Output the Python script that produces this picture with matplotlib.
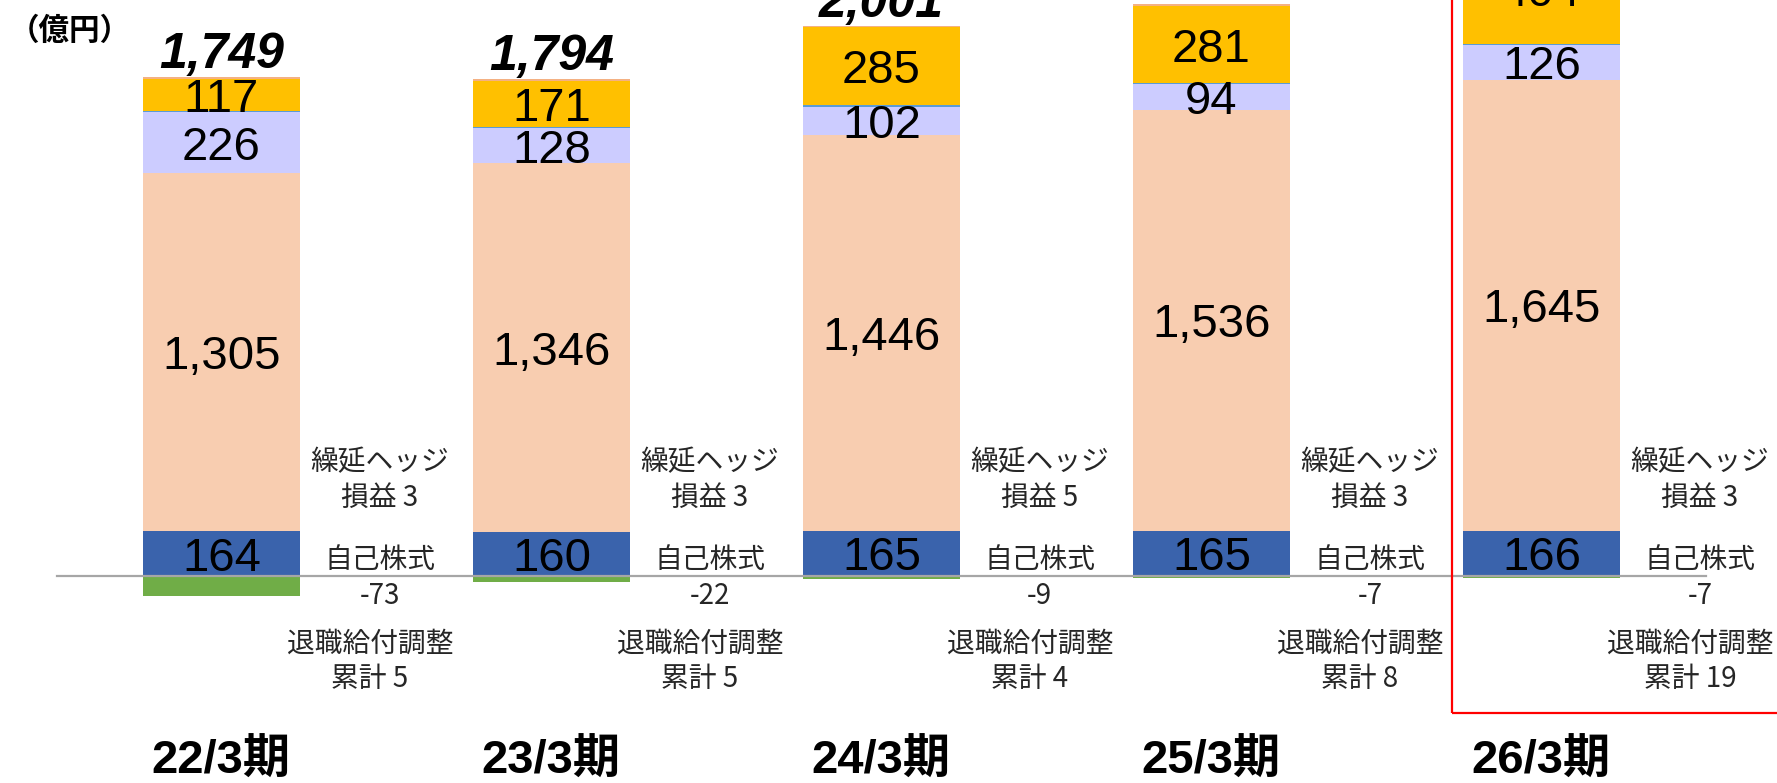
import matplotlib
matplotlib.use("Agg")
import matplotlib.pyplot as plt
from matplotlib import font_manager
from matplotlib.patches import Rectangle
import numpy as np

# データ（億円）
periods = ["22/3期", "23/3期", "24/3期", "25/3期", "26/3期"]
capital = [164, 160, 165, 165, 166]          # 青
retained = [1305, 1346, 1446, 1536, 1645]     # オレンジ
securities = [226, 128, 102, 94, 126]         # 薄紫
hedge = [3, 3, 5, 3, 3]                       # 繰延ヘッジ損益
minority = [117, 171, 285, 281, 404]          # 黄
retirement = [5, 5, 4, 8, 19]                 # 退職給付調整累計
treasury = [-73, -22, -9, -7, -7]             # 自己株式
totals = ["1,749", "1,794", "2,001"]

# フォント
names = {f.name for f in font_manager.fontManager.ttflist}
narrow = "Liberation Sans Narrow" if "Liberation Sans Narrow" in names else "Liberation Sans"
fam = [narrow, "Noto Sans CJK JP", "DejaVu Sans"]
fam_jp = ["Noto Sans CJK JP", "DejaVu Sans"]

fig = plt.figure(figsize=(17.77, 7.83), dpi=100)
ax = fig.add_axes([0, 0, 1, 1])
ax.set_xlim(-0.671, 4.714)
ax.set_ylim(-755, 2102)
ax.axis("off")

x = np.arange(len(periods))
w = 0.476

layers = [
    (capital, "#3A63AC", True),
    (retained, "#F8CDB0", True),
    (securities, "#CCCCFF", True),
    (hedge, "#5B9BD5", False),
    (minority, "#FFC000", True),
    (retirement, "#F4B183", False),
]

bottom = np.zeros(len(periods))
for vals, col, show in layers:
    vals = np.array(vals, dtype=float)
    ax.bar(x, vals, w, bottom=bottom, color=col, edgecolor="none", zorder=2)
    if show:
        for xi, b, v in zip(x, bottom, vals):
            ax.text(xi, b + v / 2, f"{int(v):,}", ha="center", va="center_baseline",
                    fontsize=34, family=fam, color="black", zorder=3)
    bottom += vals

ax.bar(x, treasury, w, color="#70AD47", edgecolor="none", zorder=2)

# 合計
for xi, b, t in zip(x, bottom, totals):
    ax.text(xi, b + 100, t, ha="center", va="center_baseline", fontsize=36,
            family=fam, fontweight="bold", style="italic", zorder=3)

# 基準線
ax.plot([-0.498, 4.5], [0, 0], color="#A6A6A6", lw=1.6, zorder=4)

# 注記
for xi, h, t, r in zip(x, hedge, treasury, retirement):
    ax.text(xi + 0.48, 350, f"繰延ヘッジ\n損益 {h}", ha="center", va="center",
            fontsize=20, family=fam_jp, color="#262626", linespacing=1.25)
    ax.text(xi + 0.48, -8, f"自己株式\n{t}", ha="center", va="center",
            fontsize=20, family=fam_jp, color="#262626", linespacing=1.25)
    ax.text(xi + 0.45, -312, f"退職給付調整\n累計 {r}", ha="center", va="center",
            fontsize=20, family=fam_jp, color="#262626", linespacing=1.25)

# 期
for xi, p in zip(x, periods):
    ax.text(xi, -679, p, ha="center", va="center", fontsize=34,
            family=fam, fontweight="bold")

ax.text(-0.645, 1990, "（億円）", ha="left", va="center", fontsize=22,
        family=fam_jp, fontweight="bold")

# 予想期の枠
ax.add_patch(Rectangle((3.729, -500), 2, 3000, fill=False, edgecolor="#FF0000",
                       lw=1.6, zorder=5))

fig.savefig("out.png", dpi=100)
